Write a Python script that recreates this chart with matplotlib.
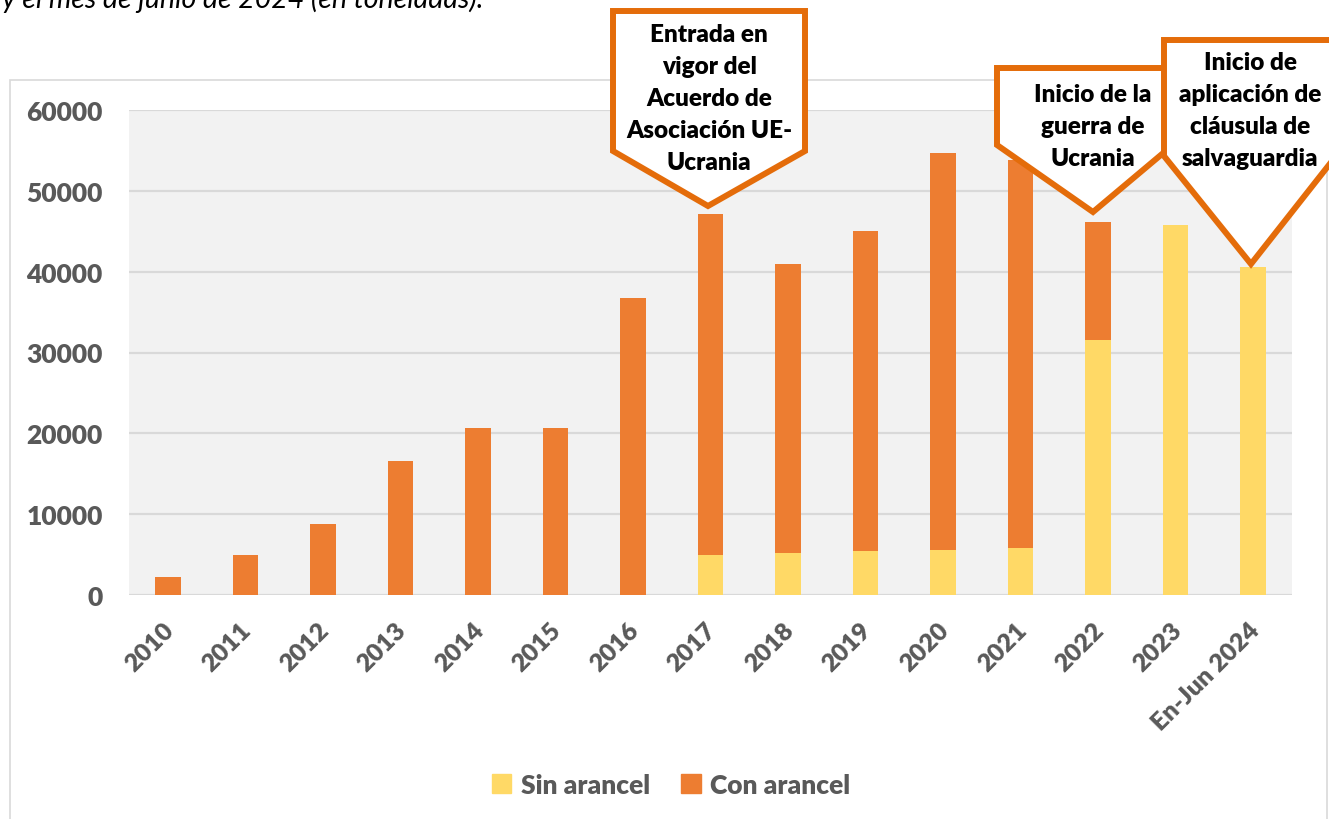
import matplotlib
matplotlib.use("Agg")
import matplotlib.pyplot as plt
from matplotlib.patches import Polygon, Rectangle, Patch
from matplotlib.transforms import ScaledTranslation
import numpy as np

# ---- data ----
categories = ["2010", "2011", "2012", "2013", "2014", "2015", "2016", "2017",
              "2018", "2019", "2020", "2021", "2022", "2023", "En-Jun 2024"]
sin_arancel = [0, 0, 0, 0, 0, 0, 0, 5000, 5200, 5400, 5600, 5800, 31600, 45800, 40600]
con_arancel = [2200, 4900, 8800, 16600, 20600, 20600, 36800, 42100, 35800, 39600,
               49100, 48000, 14500, 0, 0]
y_ticks = [0, 10000, 20000, 30000, 40000, 50000, 60000]
series_names = ["Sin arancel", "Con arancel"]
callout_texts = ["Entrada en\nvigor del\nAcuerdo de\nAsociación UE-\nUcrania",
                 "Inicio de la\nguerra de\nUcrania",
                 "Inicio de\naplicación de\ncláusula de\nsalvaguardia"]
title_tail = "y el mes de junio de 2024 (en toneladas)."

W, H = 1329, 820
DPI = 100
YELLOW = "#FFD966"
ORANGE = "#ED7D31"
CALLOUT = "#E46C0A"
GRAY_TXT = "#595959"
GRID = "#D9D9D9"
BOLD = "heavy"

plt.rcParams['font.family'] = ['Lato', 'DejaVu Sans']

fig = plt.figure(figsize=(W / DPI, H / DPI), dpi=DPI)

def fx(x):
    return x / W

def fy(y):
    return 1 - y / H

# outer chart border
fig.add_artist(Rectangle((fx(10), fy(835)), fx(1327) - fx(10), fy(81) - fy(835),
                         transform=fig.transFigure, facecolor="none",
                         edgecolor=GRID, lw=1.2, zorder=-1))

# plot area
left, right, top, bottom = 129, 1292, 111, 596
ax = fig.add_axes([fx(left), fy(bottom), (right - left) / W, (bottom - top) / H])
ax.set_facecolor("#F2F2F2")
x = np.arange(len(categories))
ax.bar(x, sin_arancel, width=0.33, color=YELLOW, zorder=2)
ax.bar(x, con_arancel, width=0.33, bottom=sin_arancel, color=ORANGE, zorder=2)
ax.set_xlim(-0.5, len(categories) - 0.5)
ax.set_ylim(0, 60000)
ax.set_yticks(y_ticks)
ax.set_yticklabels([str(v) for v in y_ticks])
ax.yaxis.grid(True, color=GRID, lw=1.6, zorder=0)
ax.set_axisbelow(True)
for s in ax.spines.values():
    s.set_visible(False)
ax.tick_params(axis="both", length=0)
ax.tick_params(axis="y", pad=19, labelsize=19, labelcolor=GRAY_TXT)
for lab in ax.get_yticklabels():
    lab.set_fontweight(BOLD)
ax.set_xticks(x)
ax.set_xticklabels(categories, rotation=45, ha="right", va="top",
                   fontsize=18, fontweight=BOLD, color=GRAY_TXT)
ax.tick_params(axis="x", pad=17)
offset = ScaledTranslation(10 / DPI, 0, fig.dpi_scale_trans)
for lab in ax.get_xticklabels():
    lab.set_transform(lab.get_transform() + offset)

# legend
handles = [Patch(color=YELLOW), Patch(color=ORANGE)]
fig.legend(handles, series_names, loc="center", bbox_to_anchor=(fx(671), fy(786)),
           ncol=2, frameon=False, handlelength=0.75, handleheight=0.75,
           handletextpad=0.35, columnspacing=1.2,
           prop={"size": 19, "weight": BOLD}, labelcolor=GRAY_TXT)

# callouts
shapes = [
    [(613, 12), (805, 12), (805, 152), (708, 207), (613, 152)],
    [(997, 69), (1168, 69), (1168, 150), (1093, 213), (997, 146)],
    [(1164, 41), (1336, 41), (1336, 157), (1251, 265), (1164, 157)],
]
text_pos = [(709, 99), (1093, 127), (1250, 111)]
for i, (pts, txt, tp) in enumerate(zip(shapes, callout_texts, text_pos)):
    poly = Polygon([(fx(a), fy(b)) for a, b in pts], closed=True,
                   transform=fig.transFigure, facecolor="white",
                   edgecolor=CALLOUT, lw=4.3, joinstyle="miter", zorder=5 + i)
    fig.add_artist(poly)
    fig.text(fx(tp[0]), fy(tp[1]), txt, ha="center", va="center",
             fontsize=17.5, fontweight=BOLD, color="black",
             linespacing=1.55, zorder=5.5 + i)

# partially visible title line
fig.text(fx(2), fy(8), title_tail, ha="left", va="baseline", fontsize=20.5,
         style="italic", color="black")

fig.savefig("out.png", dpi=DPI)
